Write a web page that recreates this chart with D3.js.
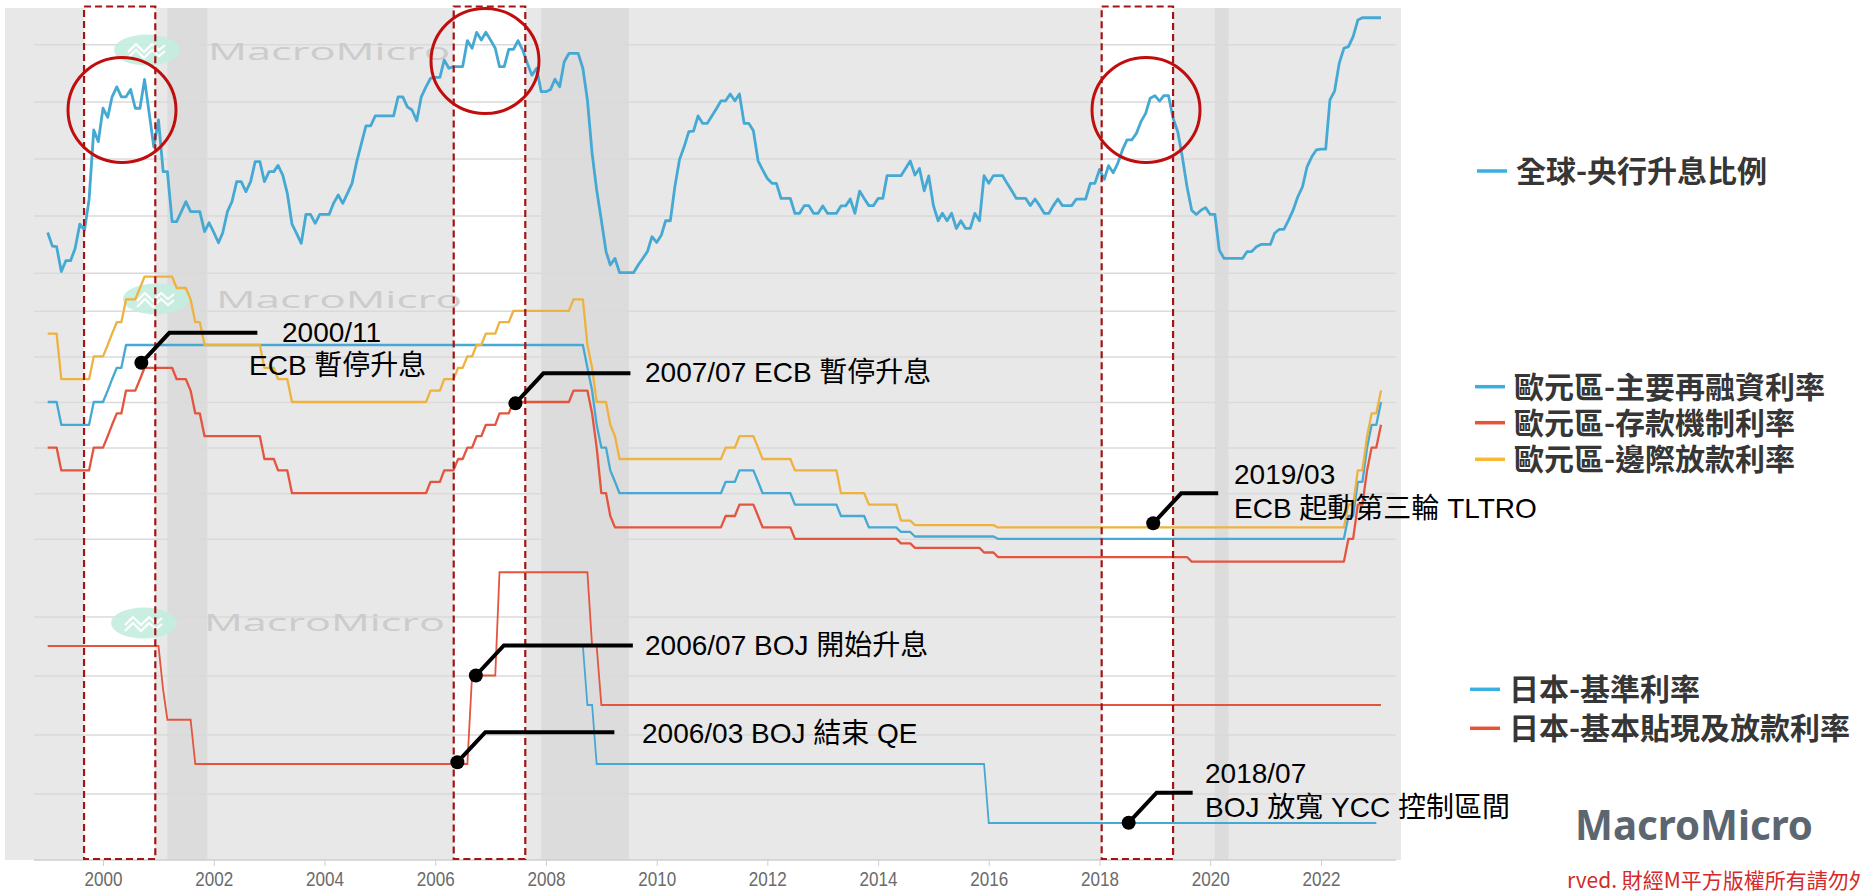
<!DOCTYPE html>
<html>
<head>
<meta charset="utf-8">
<script src="https://cdn.jsdelivr.net/npm/d3@7"></script>
<style>
  html, body { margin: 0; padding: 0; background: #fff; }
  svg { display: block; }
</style>
</head>
<body>
<svg id="chart"></svg>
<script>
const W = 1860, H = 891;

// ---------------- data ----------------
// global share of central banks hiking (%), monthly from hikeStart
const hikeStart = '1999-01';
const hikeRatio = [
  14.1, 9.3, 9.1, 0.4, 4.2, 4.2, 8.5, 17.0, 14.9, 25.5, 50.0, 45.9,      // 1999
  57.6, 54.4, 61.6, 65.1, 61.6, 61.6, 64.2, 57.6, 57.6, 67.7, 55.8, 44.1, // 2000
  53.5, 35.4, 35.4, 17.9, 17.9, 21.4, 24.9, 21.4, 21.4, 21.4, 14.4, 17.5, // 2001
  14.1, 10.5, 14.0, 21.4, 24.9, 31.9, 31.9, 28.4, 31.9, 38.9, 38.9, 31.9, // 2002
  35.4, 35.4, 37.6, 34.2, 27.8, 17.0, 13.8, 10.3, 20.4, 20.4, 17.3, 20.4, // 2003
  20.4, 20.4, 24.3, 27.2, 24.3, 27.8, 31.3, 38.9, 45.3, 51.4, 51.4, 54.9, // 2004
  54.9, 54.9, 54.9, 54.9, 61.6, 61.6, 58.1, 57.0, 53.2, 61.6, 65.1, 68.1, // 2005
  68.4, 68.4, 74.5, 71.6, 72.2, 72.2, 72.2, 81.3, 78.6, 84.2, 81.5, 84.2, // 2006
  81.5, 78.6, 72.2, 72.2, 78.2, 78.2, 81.3, 78.0, 73.3, 69.2, 71.6, 63.4, // 2007
  63.4, 64.2, 67.8, 65.1, 73.9, 76.8, 76.8, 76.8, 71.6, 60.5, 41.8, 29.0, // 2008
  18.4, 7.4, 2.7, 5.0, 0.0, 0.0, 0.0, 0.0, 2.7, 5.0, 7.4, 12.6,           // 2009
  10.6, 13.2, 18.2, 18.2, 30.1, 39.7, 44.1, 49.4, 49.6, 54.9, 52.3, 52.3, // 2010
  55.0, 57.6, 60.2, 60.2, 62.6, 60.2, 62.6, 52.3, 52.3, 49.7, 39.2, 36.0, // 2011
  33.0, 31.3, 31.3, 26.0, 26.0, 26.0, 20.8, 20.8, 23.5, 23.5, 20.8, 20.8, // 2012
  23.4, 20.8, 20.8, 20.8, 23.4, 23.4, 25.8, 20.8, 28.6, 26.0, 23.5, 23.5, // 2013
  26.0, 26.0, 34.0, 34.0, 34.0, 34.0, 36.5, 39.1, 34.2, 36.5, 28.7, 33.9, // 2014
  23.5, 18.2, 20.8, 18.2, 20.8, 15.5, 18.2, 15.5, 15.5, 20.8, 18.2, 34.0, // 2015
  31.3, 34.0, 34.0, 34.0, 31.3, 28.7, 26.0, 26.0, 26.0, 23.5, 25.8, 23.5, // 2016
  20.8, 20.8, 23.4, 25.8, 23.5, 23.5, 23.5, 25.8, 25.8, 25.8, 31.3, 31.3, // 2017
  36.2, 32.7, 37.5, 35.0, 38.3, 43.0, 46.5, 46.5, 48.8, 52.9, 55.8, 61.1, // 2018
  62.0, 60.1, 62.0, 62.0, 54.1, 49.4, 40.6, 30.1, 21.9, 20.4, 21.9, 22.8, // 2019
  20.4, 20.4, 7.9, 5.0, 5.0, 5.0, 5.0, 5.0, 7.4, 7.4, 9.1, 9.9,           // 2020
  9.9, 9.9, 13.8, 15.2, 15.2, 18.4, 21.9, 26.6, 30.1, 37.1, 40.6, 43.0,   // 2021
  43.3, 43.3, 60.5, 63.7, 73.3, 78.6, 79.2, 82.7, 88.5, 89.3, 89.3, 89.3, // 2022
  89.3, 89.3                                                              // 2023
];

// ECB rates (%), [month of change, new level]
const ecbEnd = '2023-02';
const ecbMRO = [
  ['1999-01', 3.00], ['1999-04', 2.50], ['1999-11', 3.00], ['2000-02', 3.25], ['2000-03', 3.50],
  ['2000-04', 3.75], ['2000-06', 4.25], ['2008-10', 3.75], ['2008-11', 3.25], ['2008-12', 2.50],
  ['2009-01', 2.00], ['2009-03', 1.50], ['2009-04', 1.25], ['2009-05', 1.00], ['2011-04', 1.25],
  ['2011-07', 1.50], ['2011-11', 1.25], ['2011-12', 1.00], ['2012-07', 0.75], ['2013-05', 0.50],
  ['2013-11', 0.25], ['2014-06', 0.15], ['2014-09', 0.05], ['2016-03', 0.00], ['2022-07', 0.50],
  ['2022-09', 1.25], ['2022-11', 2.00], ['2022-12', 2.50], ['2023-02', 3.00]
];
const ecbDeposit = [
  ['1999-01', 2.00], ['1999-04', 1.50], ['1999-11', 2.00], ['2000-02', 2.25], ['2000-03', 2.50],
  ['2000-04', 2.75], ['2000-06', 3.25], ['2000-09', 3.50], ['2000-10', 3.75], ['2001-05', 3.50],
  ['2001-08', 3.25], ['2001-09', 2.75], ['2001-11', 2.25], ['2002-12', 1.75], ['2003-03', 1.50],
  ['2003-06', 1.00], ['2005-12', 1.25], ['2006-03', 1.50], ['2006-06', 1.75], ['2006-08', 2.00],
  ['2006-10', 2.25], ['2006-12', 2.50], ['2007-03', 2.75], ['2007-06', 3.00], ['2008-07', 3.25],
  ['2008-11', 2.75], ['2008-12', 2.00], ['2009-01', 1.00], ['2009-03', 0.50], ['2009-04', 0.25],
  ['2011-04', 0.50], ['2011-07', 0.75], ['2011-11', 0.50], ['2011-12', 0.25], ['2012-07', 0.00],
  ['2014-06', -0.10], ['2014-09', -0.20], ['2015-12', -0.30], ['2016-03', -0.40], ['2019-09', -0.50],
  ['2022-07', 0.00], ['2022-09', 0.75], ['2022-11', 1.50], ['2022-12', 2.00], ['2023-02', 2.50]
];
const ecbLending = [
  ['1999-01', 4.50], ['1999-04', 3.50], ['1999-11', 4.00], ['2000-02', 4.25], ['2000-03', 4.50],
  ['2000-04', 4.75], ['2000-06', 5.25], ['2000-09', 5.50], ['2000-10', 5.75], ['2001-05', 5.50],
  ['2001-08', 5.25], ['2001-09', 4.75], ['2001-11', 4.25], ['2002-12', 3.75], ['2003-03', 3.50],
  ['2003-06', 3.00], ['2005-12', 3.25], ['2006-03', 3.50], ['2006-06', 3.75], ['2006-08', 4.00],
  ['2006-10', 4.25], ['2006-12', 4.50], ['2007-03', 4.75], ['2007-06', 5.00], ['2008-07', 5.25],
  ['2008-10', 4.25], ['2008-11', 3.75], ['2008-12', 3.00], ['2009-03', 2.50], ['2009-04', 2.25],
  ['2009-05', 1.75], ['2011-04', 2.00], ['2011-07', 2.25], ['2011-11', 2.00], ['2011-12', 1.75],
  ['2012-07', 1.50], ['2013-05', 1.00], ['2013-11', 0.75], ['2014-06', 0.40], ['2014-09', 0.30],
  ['2016-03', 0.25], ['2022-07', 0.75], ['2022-09', 1.50], ['2022-11', 2.25], ['2022-12', 2.75],
  ['2023-02', 3.25]
];

// BOJ rates (%)
const bojPolicy = [['2008-09', 0.50], ['2008-10', 0.30], ['2008-12', 0.10], ['2016-01', -0.10]];
const bojPolicyEnd = '2023-01';
const bojDiscount = [
  ['1999-01', 0.50], ['2001-02', 0.35], ['2001-03', 0.25], ['2001-09', 0.10], ['2006-09', 0.40],
  ['2007-03', 0.75], ['2008-11', 0.50], ['2009-01', 0.30]
];
const bojDiscountEnd = '2023-02';

const recessions = [['2001-03-01', '2001-11-20'], ['2007-12-01', '2009-07-01'], ['2020-02-01', '2020-05-01']];
const highlights = [['1999-08-29', '2000-12-11'], ['2006-05-03', '2007-08-18'], ['2018-01-15', '2019-05-01']];
const yearTicks = [2000, 2002, 2004, 2006, 2008, 2010, 2012, 2014, 2016, 2018, 2020, 2022];

const hikeTicks = [0, 20, 40, 60, 80];
const ecbTicks = [0, 1, 2, 3, 4, 5];
const bojTicks = [0, 0.2, 0.4, 0.6];

const legendHike = ['全球-央行升息比例'];
const legendEcb = ['歐元區-主要再融資利率', '歐元區-存款機制利率', '歐元區-邊際放款利率'];
const legendBoj = ['日本-基準利率', '日本-基本貼現及放款利率'];

// ---------------- setup ----------------
const BLUE = '#45a9d3', RED = '#e4553f', YELLOW = '#eeb240';
const LBLUE = '#39b0e2', LRED = '#ea5236', LYELLOW = '#f7b934';
const CJK = "'Noto Sans CJK TC', 'Noto Sans', sans-serif";
const LATIN = "'Liberation Sans', Arial, 'Noto Sans CJK TC', sans-serif";

const svg = d3.select('#chart').attr('width', W).attr('height', H);
const parseMonth = d3.timeParse('%Y-%m');
const parseDay = d3.timeParse('%Y-%m-%d');

const plot = {left: 5, right: 1401, top: 8, bottom: 860};
const gridL = 34, gridR = 1396;

const x = d3.scaleTime().domain([new Date(2000, 0, 1), new Date(2022, 0, 1)]).range([103, 1321]);
const yHike = d3.scaleLinear().domain([0, 80]).range([272.7, 44.3]);
const yEcb = d3.scaleLinear().domain([0, 5]).range([538.8, 310.8]);
const yBoj = d3.scaleLinear().domain([0, 0.6]).range([793.5, 616.5]);

// step series -> monthly points (level held until the month of change)
function expand(changes, endMonth) {
  const pts = [];
  changes.forEach(([m, v], i) => {
    const d = parseMonth(m);
    if (i > 0) pts.push({date: d3.timeMonth.offset(d, -1), value: changes[i - 1][1]});
    pts.push({date: d, value: v});
  });
  pts.push({date: parseMonth(endMonth), value: changes[changes.length - 1][1]});
  return pts;
}

// ---------------- background ----------------
svg.append('rect')
  .attr('x', plot.left).attr('y', plot.top)
  .attr('width', plot.right - plot.left).attr('height', plot.bottom - plot.top)
  .attr('fill', '#e8e8e8');

svg.append('g').selectAll('rect').data(recessions).join('rect')
  .attr('x', d => x(parseDay(d[0])))
  .attr('width', d => x(parseDay(d[1])) - x(parseDay(d[0])))
  .attr('y', plot.top).attr('height', plot.bottom - plot.top)
  .attr('fill', '#dcdcdc');

svg.append('g').selectAll('rect').data(highlights).join('rect')
  .attr('x', d => x(parseDay(d[0])))
  .attr('width', d => x(parseDay(d[1])) - x(parseDay(d[0])))
  .attr('y', plot.top).attr('height', plot.bottom - plot.top)
  .attr('fill', '#ffffff');

// gridlines, one axis per panel
[[yHike, hikeTicks], [yEcb, ecbTicks], [yBoj, bojTicks]].forEach(([sc, tv]) => {
  const g = svg.append('g')
    .attr('transform', `translate(${gridL},0)`)
    .call(d3.axisLeft(sc).tickValues(tv).tickSize(-(gridR - gridL)).tickFormat(''));
  g.select('.domain').remove();
  g.selectAll('text').remove();
  g.selectAll('line').attr('stroke', '#dadada').attr('stroke-width', 1.5);
});

// ---------------- watermarks ----------------
const marks = [
  {lx: 147, ly: 50, tx: 208, ty: 59.5, tl: 242},
  {lx: 156, ly: 299, tx: 216, ty: 308, tl: 246},
  {lx: 144, ly: 623, tx: 204, ty: 631, tl: 241}
];
marks.forEach(m => {
  const g = svg.append('g').attr('opacity', 0.9);
  g.append('ellipse').attr('cx', m.lx).attr('cy', m.ly).attr('rx', 33).attr('ry', 15.5)
    .attr('fill', '#c4eee1');
  [0, 6].forEach(off => {
    g.append('polyline')
      .attr('points', [[-19, 3], [-11, -5], [-3, 3], [5, -5], [12, 1], [18, -4]]
        .map(p => `${m.lx + p[0]},${m.ly + p[1] + off - 1}`).join(' '))
      .attr('fill', 'none').attr('stroke', '#fff').attr('stroke-width', 2.2);
  });
  g.append('text').attr('x', m.tx).attr('y', m.ty)
    .attr('textLength', m.tl).attr('lengthAdjust', 'spacingAndGlyphs')
    .style('font-family', "'Open Sans', 'Noto Sans', sans-serif")
    .style('font-size', '23px').attr('fill', '#c9c9c9')
    .text('MacroMicro');
});

// ---------------- series ----------------
const line = sc => d3.line().x(d => x(d.date)).y(d => sc(d.value));

const hikePts = hikeRatio.map((v, i) => ({date: d3.timeMonth.offset(parseMonth(hikeStart), i), value: v}));
svg.append('path').datum(hikePts).attr('d', line(yHike))
  .attr('fill', 'none').attr('stroke', BLUE).attr('stroke-width', 2.8).attr('stroke-linejoin', 'round');

[[ecbMRO, BLUE], [ecbDeposit, RED], [ecbLending, YELLOW]].forEach(([s, c]) => {
  svg.append('path').datum(expand(s, ecbEnd)).attr('d', line(yEcb))
    .attr('fill', 'none').attr('stroke', c).attr('stroke-width', 2.3).attr('stroke-linejoin', 'round');
});

svg.append('path').datum(expand(bojPolicy, bojPolicyEnd)).attr('d', line(yBoj))
  .attr('fill', 'none').attr('stroke', BLUE).attr('stroke-width', 1.8);
svg.append('path').datum(expand(bojDiscount, bojDiscountEnd)).attr('d', line(yBoj))
  .attr('fill', 'none').attr('stroke', RED).attr('stroke-width', 1.8);

// ---------------- x axis ----------------
svg.append('line').attr('x1', gridL).attr('x2', gridR).attr('y1', plot.bottom).attr('y2', plot.bottom)
  .attr('stroke', '#cfcfcf').attr('stroke-width', 1.5);
const xa = svg.append('g').attr('transform', `translate(0,${plot.bottom})`)
  .call(d3.axisBottom(x).tickValues(yearTicks.map(y => new Date(y, 0, 1))).tickSize(6).tickFormat(d3.timeFormat('%Y')));
xa.select('.domain').remove();
xa.selectAll('line').attr('stroke', '#cfcfcf');
xa.selectAll('text')
  .attr('y', 26).attr('dy', null)
  .attr('textLength', 38).attr('lengthAdjust', 'spacingAndGlyphs')
  .style('font-family', LATIN).style('font-size', '20px').attr('fill', '#6b6b6b');

// ---------------- highlight boxes and circles ----------------
svg.append('g').selectAll('rect').data(highlights).join('rect')
  .attr('x', d => x(parseDay(d[0])))
  .attr('width', d => x(parseDay(d[1])) - x(parseDay(d[0])))
  .attr('y', 6.5).attr('height', 852.5)
  .attr('fill', 'none').attr('stroke', '#a31515').attr('stroke-width', 2.2)
  .attr('stroke-dasharray', '7,4');

const rings = [{cx: 122, cy: 110}, {cx: 485, cy: 61}, {cx: 1146, cy: 110}];
svg.append('g').selectAll('ellipse').data(rings).join('ellipse')
  .attr('cx', d => d.cx).attr('cy', d => d.cy).attr('rx', 54).attr('ry', 52.5)
  .attr('fill', 'none').attr('stroke', '#c00d0d').attr('stroke-width', 3);

// ---------------- annotations ----------------
const notes = [
  {sc: yEcb, at: '2000-09-10', v: 3.86, len: 88, lines: ['2000/11', 'ECB 暫停升息'], tx: [282, 249], ty: [342, 375]},
  {sc: yEcb, at: '2007-06-14', v: 2.97, len: 87, lines: ['2007/07 ECB 暫停升息'], tx: [645], ty: [382]},
  {sc: yEcb, at: '2018-12-21', v: 0.34, len: 37, lines: ['2019/03', 'ECB 起動第三輪 TLTRO'], tx: [1234, 1234], ty: [484, 518]},
  {sc: yBoj, at: '2006-09-26', v: 0.40, len: 129, lines: ['2006/07 BOJ 開始升息'], tx: [645], ty: [655]},
  {sc: yBoj, at: '2006-05-27', v: 0.106, len: 129, lines: ['2006/03 BOJ 結束 QE'], tx: [642], ty: [743]},
  {sc: yBoj, at: '2018-07-12', v: -0.099, len: 36, lines: ['2018/07', 'BOJ 放寬 YCC 控制區間'], tx: [1205, 1205], ty: [783, 817]}
];
notes.forEach(n => {
  const px = x(parseDay(n.at)), py = n.sc(n.v);
  const kx = px + 28, ky = py - 30;
  svg.append('path')
    .attr('d', `M${px},${py}L${kx},${ky}H${kx + n.len}`)
    .attr('fill', 'none').attr('stroke', '#000').attr('stroke-width', 4);
  svg.append('circle').attr('cx', px).attr('cy', py).attr('r', 7).attr('fill', '#000');
  n.lines.forEach((t, i) => {
    svg.append('text').attr('x', n.tx[i]).attr('y', n.ty[i])
      .style('font-family', LATIN).style('font-size', '28px').attr('fill', '#000')
      .text(t);
  });
});

// ---------------- legends ----------------
function legend(names, colors, lx, ys) {
  names.forEach((name, i) => {
    svg.append('line').attr('x1', lx).attr('x2', lx + 30).attr('y1', ys[i]).attr('y2', ys[i])
      .attr('stroke', colors[i]).attr('stroke-width', 3.5);
    svg.append('text').attr('x', lx + 39).attr('y', ys[i] - 2)
      .attr('dominant-baseline', 'central')
      .style('font-family', CJK).style('font-weight', 700).style('font-size', '30px')
      .attr('fill', '#363636').text(name);
  });
}
legend(legendHike, [LBLUE], 1477, [171]);
legend(legendEcb, [LBLUE, LRED, LYELLOW], 1475, [386.7, 422.7, 459.3]);
legend(legendBoj, [LBLUE, LRED], 1470, [689.3, 728.3]);

// ---------------- branding ----------------
svg.append('text').attr('x', 1575).attr('y', 840)
  .attr('textLength', 238).attr('lengthAdjust', 'spacingAndGlyphs')
  .style('font-family', "'Noto Sans', 'Open Sans', sans-serif").style('font-weight', 700)
  .style('font-size', '41px').attr('fill', '#5c6670')
  .text('MacroMicro');

svg.append('text').attr('x', 1567).attr('y', 888)
  .style('font-family', CJK).style('font-size', '21px').attr('fill', '#d42a2a')
  .text('rved. 財經M平方版權所有請勿外流');
</script>
</body>
</html>
